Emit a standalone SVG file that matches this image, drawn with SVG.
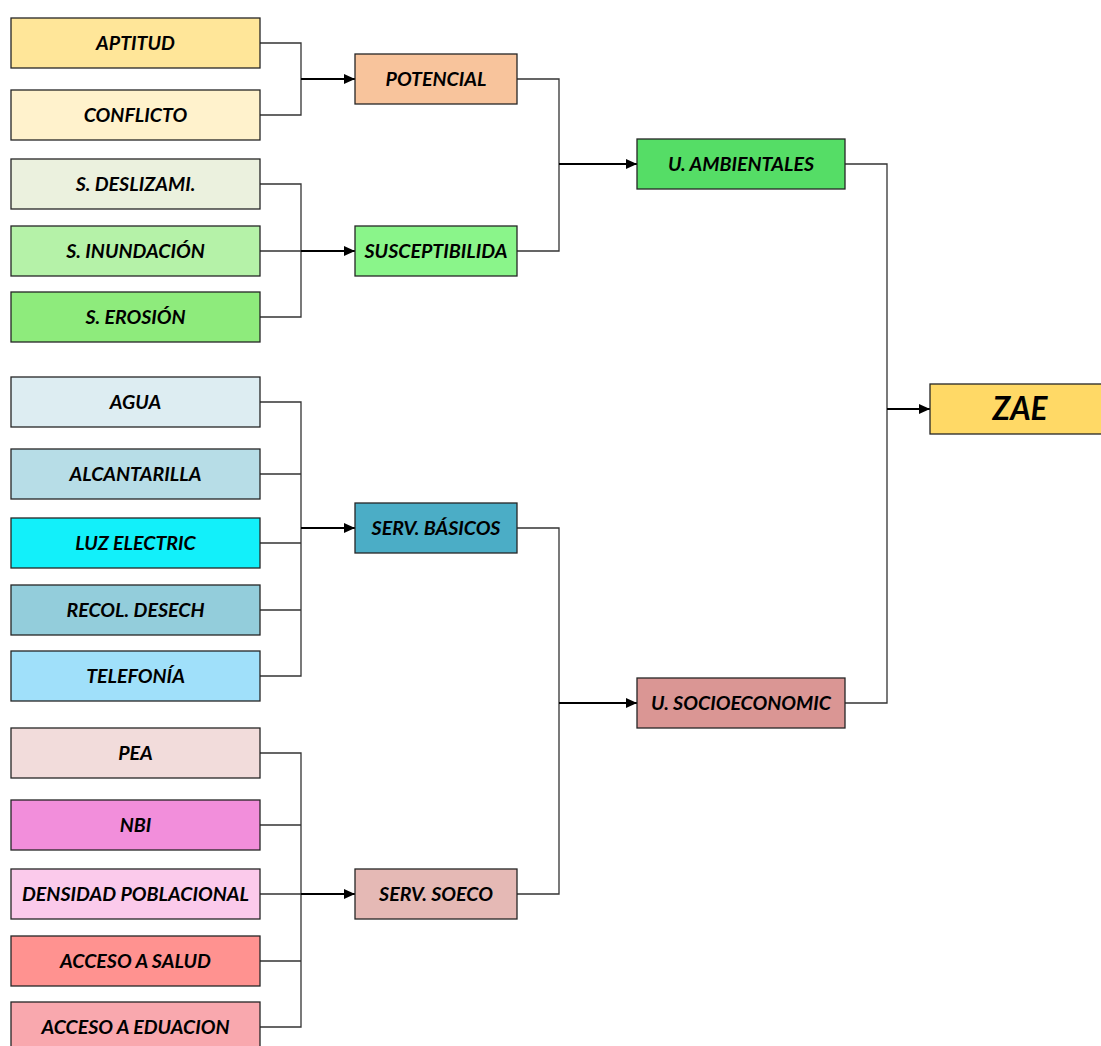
<svg xmlns="http://www.w3.org/2000/svg" width="1101" height="1046" viewBox="0 0 1101 1046">
<style>
.b{stroke:#262626;stroke-width:1.3}
.t{font-family:Lato,"Liberation Sans",sans-serif;font-weight:bold;font-style:italic;font-size:19.6px;fill:#000;text-anchor:middle}
.z{font-size:31.5px}
.c{fill:none;stroke:#333;stroke-width:1.3}
.a{fill:none;stroke:#000;stroke-width:1.8;marker-end:url(#ah)}
</style>
<defs>
<marker id="ah" markerWidth="11" markerHeight="10" refX="11" refY="5" orient="auto" markerUnits="userSpaceOnUse">
<path d="M0,0 L11,5 L0,10 Z" fill="#000"/>
</marker>
</defs>
<rect width="1101" height="1046" fill="#fff"/>
<g id="connectors">
<path class="c" d="M260,43 H301 V115 H260"/>
<path class="a" d="M301,79 H355"/>
<path class="c" d="M260,184 H301 V317 H260 M260,251 H301"/>
<path class="a" d="M301,251 H355"/>
<path class="c" d="M260,402 H301 V676 H260 M260,474 H301 M260,543 H301 M260,610 H301"/>
<path class="a" d="M301,528 H355"/>
<path class="c" d="M260,753 H301 V1027 H260 M260,825 H301 M260,894 H301 M260,961 H301"/>
<path class="a" d="M301,894 H355"/>
<path class="c" d="M517,79 H559 V251 H517"/>
<path class="a" d="M559,164 H637"/>
<path class="c" d="M517,528 H559 V894 H517"/>
<path class="a" d="M559,703 H637"/>
<path class="c" d="M845,164 H887 V703 H845"/>
<path class="a" d="M887,409 H930"/>
</g>
<g id="aptitud"><rect class="b" x="11" y="18" width="249" height="50" fill="#FFE699"/><text class="t" x="135.5" y="50">APTITUD</text></g>
<g id="conflicto"><rect class="b" x="11" y="90" width="249" height="50" fill="#FFF2CC"/><text class="t" x="135.5" y="122">CONFLICTO</text></g>
<g id="s-deslizami"><rect class="b" x="11" y="159" width="249" height="50" fill="#EBF1DE"/><text class="t" x="135.5" y="191">S. DESLIZAMI.</text></g>
<g id="s-inundacion"><rect class="b" x="11" y="226" width="249" height="50" fill="#B5F2A8"/><text class="t" x="135.5" y="258">S. INUNDACIÓN</text></g>
<g id="s-erosion"><rect class="b" x="11" y="292" width="249" height="50" fill="#8EEB7C"/><text class="t" x="135.5" y="324">S. EROSIÓN</text></g>
<g id="agua"><rect class="b" x="11" y="377" width="249" height="50" fill="#DDEDF2"/><text class="t" x="135.5" y="409">AGUA</text></g>
<g id="alcantarilla"><rect class="b" x="11" y="449" width="249" height="50" fill="#B7DDE7"/><text class="t" x="135.5" y="481">ALCANTARILLA</text></g>
<g id="luz-electric"><rect class="b" x="11" y="518" width="249" height="50" fill="#12F0FA"/><text class="t" x="135.5" y="550">LUZ ELECTRIC</text></g>
<g id="recol-desech"><rect class="b" x="11" y="585" width="249" height="50" fill="#93CDDB"/><text class="t" x="135.5" y="617">RECOL. DESECH</text></g>
<g id="telefonia"><rect class="b" x="11" y="651" width="249" height="50" fill="#A0E0FA"/><text class="t" x="135.5" y="683">TELEFONÍA</text></g>
<g id="pea"><rect class="b" x="11" y="728" width="249" height="50" fill="#F2DCDB"/><text class="t" x="135.5" y="760">PEA</text></g>
<g id="nbi"><rect class="b" x="11" y="800" width="249" height="50" fill="#F28EDB"/><text class="t" x="135.5" y="832">NBI</text></g>
<g id="densidad"><rect class="b" x="11" y="869" width="249" height="50" fill="#FBCAEB"/><text class="t" x="135.5" y="901">DENSIDAD POBLACIONAL</text></g>
<g id="acceso-salud"><rect class="b" x="11" y="936" width="249" height="50" fill="#FF9290"/><text class="t" x="135.5" y="968">ACCESO A SALUD</text></g>
<g id="acceso-educacion"><rect class="b" x="11" y="1002" width="249" height="52" fill="#F9A8AE"/><text class="t" x="135.5" y="1034">ACCESO A EDUACION</text></g>
<g id="potencial"><rect class="b" x="355" y="54" width="162" height="50" fill="#F8C49C"/><text class="t" x="436" y="86">POTENCIAL</text></g>
<g id="susceptibilidad"><rect class="b" x="355" y="226" width="162" height="50" fill="#8AF58A"/><text class="t" x="436" y="258">SUSCEPTIBILIDA</text></g>
<g id="serv-basicos"><rect class="b" x="355" y="503" width="162" height="50" fill="#4BADC6"/><text class="t" x="436" y="535">SERV. BÁSICOS</text></g>
<g id="serv-soeco"><rect class="b" x="355" y="869" width="162" height="50" fill="#E5B9B5"/><text class="t" x="436" y="901">SERV. SOECO</text></g>
<g id="u-ambientales"><rect class="b" x="637" y="139" width="208" height="50" fill="#55DD66"/><text class="t" x="741" y="171">U. AMBIENTALES</text></g>
<g id="u-socioeconomic"><rect class="b" x="637" y="678" width="208" height="50" fill="#DA9694"/><text class="t" x="741" y="710">U. SOCIOECONOMIC</text></g>
<g id="zae"><rect class="b" x="930" y="384" width="175" height="50" fill="#FFD966"/><text class="t z" x="1020" y="420">ZAE</text></g>
</svg>
